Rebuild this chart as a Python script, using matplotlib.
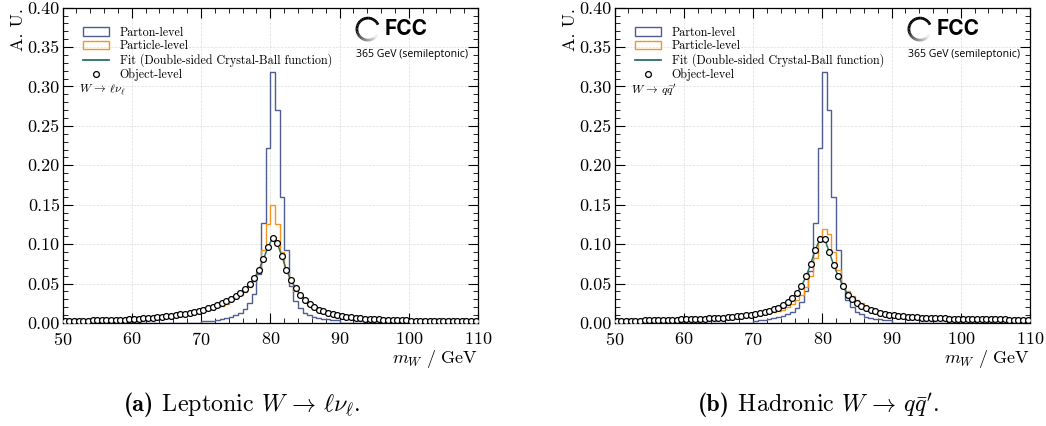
import numpy as np
import matplotlib
matplotlib.use("Agg")
from matplotlib import pyplot as plt
from matplotlib.patches import Arc, Patch
from matplotlib.lines import Line2D
from matplotlib.ticker import MultipleLocator, FormatStrFormatter

# binning: 90 bins between 50 and 110 GeV
m_lo, m_hi, n_bins = 50.0, 110.0, 90

# --- leptonic W -> l nu ---
lep_parton = [0.0] * 30 + [
    0.002, 0.0025, 0.003, 0.004, 0.005, 0.006, 0.008, 0.010, 0.013, 0.018,
    0.025, 0.037, 0.062, 0.127, 0.222, 0.318, 0.270, 0.160, 0.092, 0.047,
    0.028, 0.019, 0.013, 0.010, 0.008, 0.0065, 0.0055, 0.0045, 0.004, 0.0035,
] + [0.0] * 30

lep_particle = [
    0.0022, 0.0023, 0.0024, 0.0025, 0.0026, 0.0027, 0.0028, 0.0029, 0.0030, 0.0031,
    0.0033, 0.0035, 0.0037, 0.0039, 0.0041, 0.0044, 0.0047, 0.0050, 0.0054, 0.0058,
    0.0063, 0.0068, 0.0074, 0.0080, 0.0087, 0.0095, 0.0104, 0.0114, 0.0125, 0.0137,
    0.0150, 0.0165, 0.0182, 0.0200, 0.0220, 0.0245, 0.0275, 0.0310, 0.0350, 0.0395,
    0.0455, 0.0530, 0.0660, 0.0920, 0.1260, 0.1490, 0.1260, 0.0900, 0.0660, 0.0510,
    0.0410, 0.0340, 0.0280, 0.0230, 0.0195, 0.0165, 0.0143, 0.0126, 0.0111, 0.0098,
    0.0088, 0.0079, 0.0071, 0.0065, 0.0059, 0.0054, 0.0050, 0.0046, 0.0043, 0.0040,
    0.0038, 0.0036, 0.0034, 0.0032, 0.0031, 0.0029, 0.0028, 0.0027, 0.0026, 0.0025,
    0.0024, 0.0023, 0.0023, 0.0022, 0.0021, 0.0021, 0.0020, 0.0020, 0.0019, 0.0019,
]

lep_object = [
    0.0025, 0.0026, 0.0027, 0.0028, 0.0029, 0.0030, 0.0031, 0.0032, 0.0034, 0.0035,
    0.0037, 0.0039, 0.0041, 0.0043, 0.0046, 0.0049, 0.0052, 0.0056, 0.0060, 0.0065,
    0.0070, 0.0076, 0.0083, 0.0090, 0.0098, 0.0107, 0.0117, 0.0128, 0.0140, 0.0154,
    0.0169, 0.0186, 0.0205, 0.0226, 0.0250, 0.0277, 0.0308, 0.0343, 0.0383, 0.0430,
    0.0490, 0.0565, 0.0665, 0.0810, 0.0960, 0.1080, 0.1010, 0.0850, 0.0670, 0.0540,
    0.0440, 0.0360, 0.0290, 0.0240, 0.0200, 0.0170, 0.0148, 0.0130, 0.0114, 0.0100,
    0.0089, 0.0080, 0.0072, 0.0066, 0.0060, 0.0055, 0.0051, 0.0047, 0.0044, 0.0041,
    0.0039, 0.0037, 0.0035, 0.0033, 0.0032, 0.0030, 0.0029, 0.0028, 0.0027, 0.0026,
    0.0025, 0.0024, 0.0023, 0.0023, 0.0022, 0.0021, 0.0021, 0.0020, 0.0020, 0.0019,
]

# --- hadronic W -> q qbar' ---
had_parton = [0.0] * 30 + [
    0.003, 0.0035, 0.004, 0.005, 0.006, 0.007, 0.009, 0.011, 0.014, 0.019,
    0.026, 0.040, 0.066, 0.127, 0.222, 0.318, 0.270, 0.160, 0.092, 0.048,
    0.029, 0.020, 0.014, 0.011, 0.008, 0.0065, 0.0055, 0.0045, 0.004, 0.0035,
] + [0.0] * 30

had_particle = [
    0.0020, 0.0021, 0.0022, 0.0023, 0.0024, 0.0025, 0.0026, 0.0027, 0.0028, 0.0030,
    0.0031, 0.0033, 0.0035, 0.0037, 0.0039, 0.0041, 0.0043, 0.0046, 0.0049, 0.0052,
    0.0055, 0.0058, 0.0061, 0.0065, 0.0069, 0.0073, 0.0077, 0.0081, 0.0086, 0.0092,
    0.0098, 0.0105, 0.0113, 0.0122, 0.0135, 0.0150, 0.0170, 0.0198, 0.0235, 0.0285,
    0.0355, 0.0455, 0.0600, 0.0820, 0.1080, 0.1190, 0.1130, 0.0900, 0.0670, 0.0510,
    0.0410, 0.0340, 0.0290, 0.0250, 0.0220, 0.0192, 0.0170, 0.0150, 0.0133, 0.0119,
    0.0107, 0.0097, 0.0089, 0.0082, 0.0077, 0.0072, 0.0068, 0.0065, 0.0062, 0.0059,
    0.0057, 0.0055, 0.0053, 0.0052, 0.0050, 0.0049, 0.0048, 0.0047, 0.0046, 0.0045,
    0.0044, 0.0044, 0.0043, 0.0042, 0.0042, 0.0041, 0.0041, 0.0040, 0.0040, 0.0039,
]

had_object = [
    0.0025, 0.0026, 0.0027, 0.0028, 0.0029, 0.0030, 0.0031, 0.0032, 0.0033, 0.0035,
    0.0036, 0.0038, 0.0040, 0.0042, 0.0044, 0.0046, 0.0048, 0.0050, 0.0052, 0.0054,
    0.0056, 0.0059, 0.0062, 0.0066, 0.0071, 0.0076, 0.0082, 0.0088, 0.0095, 0.0103,
    0.0112, 0.0123, 0.0136, 0.0152, 0.0171, 0.0195, 0.0225, 0.0265, 0.0315, 0.0380,
    0.0470, 0.0590, 0.0750, 0.0930, 0.1060, 0.1070, 0.0900, 0.0730, 0.0590, 0.0470,
    0.0360, 0.0300, 0.0250, 0.0215, 0.0185, 0.0163, 0.0145, 0.0128, 0.0116, 0.0106,
    0.0097, 0.0090, 0.0084, 0.0079, 0.0075, 0.0071, 0.0068, 0.0065, 0.0062, 0.0060,
    0.0058, 0.0056, 0.0054, 0.0053, 0.0052, 0.0051, 0.0050, 0.0049, 0.0048, 0.0047,
    0.0046, 0.0046, 0.0045, 0.0044, 0.0044, 0.0043, 0.0042, 0.0042, 0.0041, 0.0041,
]

panels = [
    (lep_parton, lep_particle, lep_object, r"$W \,\rightarrow\, \ell\nu_\ell$",
     "(a)", r" Leptonic $W \,\rightarrow\, \ell\nu_{\ell}$.", 242),
    (had_parton, had_particle, had_object, r"$W \,\rightarrow\, q\bar{q}'$",
     "(b)", r" Hadronic $W \,\rightarrow\, q\bar{q}'$.", 818),
]

c_parton = "#4f5d91"
c_particle = "#f7941d"
c_fit = "#2c6e6a"

plt.rcParams["font.family"] = "serif"
plt.rcParams["font.serif"] = ["cmr10"]
plt.rcParams["mathtext.fontset"] = "cm"
plt.rcParams["axes.formatter.use_mathtext"] = True
plt.rcParams["axes.unicode_minus"] = False

edges = np.linspace(m_lo, m_hi, n_bins + 1)
centers = 0.5 * (edges[1:] + edges[:-1])

fig = plt.figure(figsize=(10.46, 4.26), dpi=100)
ax_lefts = [0.0598, 0.5875]
ax_w = 0.3972
captions = []

for left, (parton, particle, obj, proc, cap_a, cap_b, cap_x) in zip(ax_lefts, panels):
    ax = fig.add_axes([left, 0.242, ax_w, 0.740])
    ax.stairs(parton, edges, color=c_parton, lw=1.0, zorder=2)
    ax.stairs(particle, edges, color=c_particle, lw=1.0, zorder=3)
    ax.plot(centers, obj, color=c_fit, lw=1.1, zorder=4)
    ax.plot(centers, obj, "o", ms=4.2, mfc="white", mec="black", mew=0.9, zorder=5)

    ax.set_xlim(m_lo, m_hi)
    ax.set_ylim(0, 0.40)
    ax.xaxis.set_major_locator(MultipleLocator(10))
    ax.xaxis.set_minor_locator(MultipleLocator(2))
    ax.yaxis.set_major_locator(MultipleLocator(0.05))
    ax.yaxis.set_minor_locator(MultipleLocator(0.01))
    ax.yaxis.set_major_formatter(FormatStrFormatter("%.2f"))
    ax.tick_params(which="both", direction="in", top=True, right=True, labelsize=13)
    ax.tick_params(which="major", length=7, width=0.8, pad=2)
    ax.tick_params(axis="x", which="major", pad=5.5)
    ax.tick_params(which="minor", length=3.5, width=0.6)
    ax.grid(True, which="major", ls="--", lw=0.5, color="#dddddd")
    ax.set_axisbelow(True)
    for sp in ax.spines.values():
        sp.set_linewidth(0.9)

    ax.set_ylabel("A. U.", loc="top", fontsize=13, labelpad=1)
    ax.set_xlabel(r"$m_W\ /\ \mathrm{GeV}$", loc="right", fontsize=13, labelpad=0)

    handles = [
        Patch(facecolor="none", edgecolor=c_parton, lw=1.0),
        Patch(facecolor="none", edgecolor=c_particle, lw=1.0),
        Line2D([], [], color=c_fit, lw=1.3),
        Line2D([], [], ls="none", marker="o", ms=4.2, mfc="white", mec="black", mew=0.9),
    ]
    labels = ["Parton-level", "Particle-level",
              "Fit (Double-sided Crystal-Ball function)", "Object-level"]
    ax.legend(handles, labels, loc="upper left", bbox_to_anchor=(0.03, 0.967),
              frameon=False, fontsize=8.7, handlelength=2.1, handleheight=0.7,
              labelspacing=0.12, handletextpad=0.9, borderpad=0.2)
    ax.text(0.04, 0.74, proc, transform=ax.transAxes, fontsize=8.5, va="center")

    # FCC logo
    cx, cy = 0.735, 0.932
    w, h = 22 / 415.5, 22 / 315.5
    steps = 30
    for i in range(steps):
        a0 = 30 + i * (290 / steps)
        frac = i / (steps - 1)
        alpha = 1.0 if frac < 0.55 else max(0.06, 1.0 - (frac - 0.55) / 0.45)
        ax.add_patch(Arc((cx, cy), w, h, theta1=a0, theta2=a0 + 290 / steps + 0.5,
                         transform=ax.transAxes, color="black", lw=2.0, alpha=alpha))
    ax.text(cx + 0.04, cy, "FCC", transform=ax.transAxes, fontsize=15,
            fontweight="bold", family="Inter", va="center", ha="left")
    ax.text(0.976, 0.852, "365 GeV (semileptonic)", transform=ax.transAxes,
            fontsize=7.6, family="Open Sans", va="center", ha="right")

    ta = fig.text(0, 0.049, cap_a, family="cmb10", fontsize=17.3, va="center", ha="left")
    tb = fig.text(0, 0.049, cap_b, fontsize=17.3, va="center", ha="left")
    captions.append((cap_x, ta, tb))

# centre the two-part captions at their pixel positions
fig.canvas.draw()
rend = fig.canvas.get_renderer()
fw = fig.bbox.width
for xc, ta, tb in captions:
    wa = ta.get_window_extent(rend).width / fw
    wb = tb.get_window_extent(rend).width / fw
    x0 = xc / fw - (wa + wb) / 2
    ta.set_x(x0)
    tb.set_x(x0 + wa)

fig.savefig("out.png", dpi=100)
